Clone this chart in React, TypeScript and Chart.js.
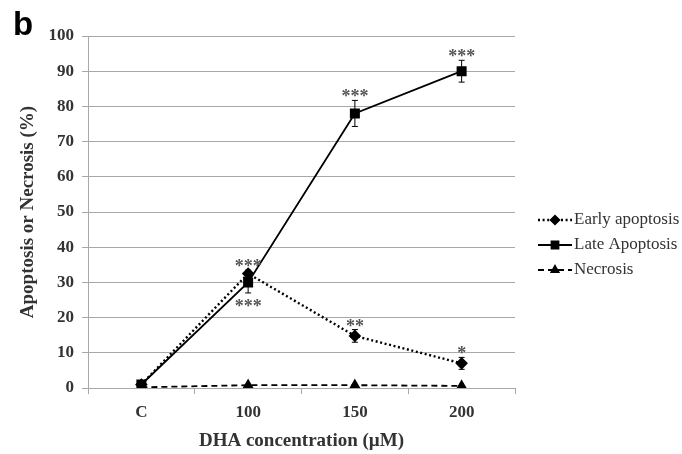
import { useEffect, useRef } from 'react';
import { Chart, registerables } from 'chart.js';
import { drawPoint } from 'chart.js/helpers';

Chart.register(...registerables);

const categories = ['C', '100', '150', '200'];

const earlyApoptosis = [1, 32.5, 14.8, 7];
const earlyErr = [0.4, 1, 1.8, 1.7];
const earlySig = ['', '***', '**', '*'];
const earlySigSide = ['above', 'above', 'above', 'above'];

const lateApoptosis = [1, 30, 78, 90];
const lateErr = [0.6, 3, 3.7, 3.1];
const lateSig = ['', '***', '***', '***'];
const lateSigSide = ['above', 'below', 'above', 'above'];

const necrosis = [0.2, 0.8, 0.8, 0.6];
const necrosisErr = [0, 0, 0, 0];
const necrosisSig = ['', '', '', ''];
const necrosisSigSide = ['above', 'above', 'above', 'above'];

const seriesNames = ['Early apoptosis', 'Late Apoptosis', 'Necrosis'];

const yMin = 0;
const yMax = 100;
const yStep = 10;

const panelLabel = 'b';
const xTitle = 'DHA concentration (µM)';
const yTitle = 'Apoptosis or Necrosis (%)';

const SERIF = '"Liberation Serif", "Times New Roman", serif';
const GRID = '#a8a8a8';
const TEXT = '#333333';

const decorPlugin = {
  id: 'decor',
  afterDatasetsDraw(chart: any) {
    const ctx = chart.ctx;
    const xs = chart.scales.x;
    const ys = chart.scales.y;
    ctx.save();
    chart.data.datasets.forEach((ds: any) => {
      ds.data.forEach((v: number, i: number) => {
        const px = xs.getPixelForValue(i);
        const e = ds.errors[i];
        const top = ys.getPixelForValue(v + e);
        const bot = ys.getPixelForValue(v - e);
        if (e > 0) {
          ctx.setLineDash([]);
          ctx.strokeStyle = '#000';
          ctx.lineWidth = 1;
          ctx.beginPath();
          ctx.moveTo(px, top);
          ctx.lineTo(px, bot);
          ctx.moveTo(px - 3, top);
          ctx.lineTo(px + 3, top);
          ctx.moveTo(px - 3, bot);
          ctx.lineTo(px + 3, bot);
          ctx.stroke();
        }
        const s = ds.sig[i];
        if (s) {
          ctx.fillStyle = '#555';
          ctx.font = 'bold 18px ' + SERIF;
          ctx.textAlign = 'center';
          ctx.textBaseline = 'alphabetic';
          if (ds.sigSide[i] === 'above') {
            ctx.fillText(s, px, top + 2);
          } else {
            ctx.fillText(s, px, bot + 19);
          }
        }
      });
    });
    ctx.restore();
  },
  afterDraw(chart: any) {
    const ctx = chart.ctx;
    const area = chart.chartArea;
    ctx.save();
    // panel label
    ctx.fillStyle = '#000';
    ctx.font = 'bold 33px "Liberation Sans", Arial, sans-serif';
    ctx.textAlign = 'left';
    ctx.textBaseline = 'alphabetic';
    ctx.fillText(panelLabel, 13, 35);
    // x title
    ctx.fillStyle = TEXT;
    ctx.font = 'bold 19px ' + SERIF;
    ctx.textAlign = 'center';
    ctx.textBaseline = 'middle';
    ctx.fillText(xTitle, (area.left + area.right) / 2, 441);
    // y title
    ctx.save();
    ctx.font = 'bold 19px ' + SERIF;
    ctx.translate(28, (area.top + area.bottom) / 2);
    ctx.rotate(-Math.PI / 2);
    ctx.fillText(yTitle, 0, 0);
    ctx.restore();
    // legend
    const rows = [220, 245, 270];
    chart.data.datasets.forEach((ds: any, i: number) => {
      const ry = rows[i];
      ctx.setLineDash(ds.borderDash || []);
      ctx.strokeStyle = '#000';
      ctx.lineWidth = ds.borderWidth;
      ctx.beginPath();
      ctx.moveTo(538, ry);
      ctx.lineTo(572, ry);
      ctx.stroke();
      ctx.setLineDash([]);
      ctx.fillStyle = '#000';
      drawPoint(ctx, { pointStyle: ds.pointStyle, radius: ds.pointRadius * 0.85, rotation: 0, borderWidth: 1 }, 555, ry);
      ctx.fillStyle = TEXT;
      ctx.font = '17px ' + SERIF;
      ctx.textAlign = 'left';
      ctx.textBaseline = 'middle';
      ctx.fillText(ds.label, 574, ry);
    });
    ctx.restore();
  },
};

export default function App() {
  const ref = useRef<HTMLCanvasElement | null>(null);

  useEffect(() => {
    document.body.style.margin = '0';
    if (!ref.current) return;
    const chart = new Chart(ref.current, {
      type: 'line',
      data: {
        labels: categories,
        datasets: [
          {
            label: seriesNames[0],
            data: earlyApoptosis,
            errors: earlyErr,
            sig: earlySig,
            sigSide: earlySigSide,
            borderColor: '#000',
            backgroundColor: '#000',
            borderWidth: 2.4,
            borderDash: [2, 2.6],
            pointStyle: 'rectRot',
            pointRadius: 4.6,
            pointBackgroundColor: '#000',
            pointBorderColor: '#000',
            tension: 0,
          } as any,
          {
            label: seriesNames[1],
            data: lateApoptosis,
            errors: lateErr,
            sig: lateSig,
            sigSide: lateSigSide,
            borderColor: '#000',
            backgroundColor: '#000',
            borderWidth: 1.8,
            borderDash: [],
            pointStyle: 'rect',
            pointRadius: 5.8,
            pointBackgroundColor: '#000',
            pointBorderColor: '#000',
            tension: 0,
          } as any,
          {
            label: seriesNames[2],
            data: necrosis,
            errors: necrosisErr,
            sig: necrosisSig,
            sigSide: necrosisSigSide,
            borderColor: '#000',
            backgroundColor: '#000',
            borderWidth: 1.8,
            borderDash: [6, 4],
            pointStyle: 'triangle',
            pointRadius: 4.8,
            pointBackgroundColor: '#000',
            pointBorderColor: '#000',
            tension: 0,
          } as any,
        ],
      },
      options: {
        responsive: false,
        animation: false,
        devicePixelRatio: 1,
        layout: { padding: { top: 36, right: 167, left: 0, bottom: 0 } },
        plugins: {
          legend: { display: false },
          tooltip: { enabled: false },
        },
        scales: {
          x: {
            type: 'category',
            offset: true,
            grid: {
              offset: true,
              drawOnChartArea: false,
              drawTicks: true,
              tickLength: 6,
              color: GRID,
            },
            border: { color: GRID, width: 1 },
            ticks: {
              color: TEXT,
              padding: 8,
              font: { family: SERIF, size: 17, weight: 'bold' },
            },
            afterFit: (s: any) => {
              s.height = 66;
            },
          },
          y: {
            min: yMin,
            max: yMax,
            grid: { color: GRID, tickLength: 6, drawTicks: true },
            border: { color: GRID, width: 1 },
            ticks: {
              stepSize: yStep,
              color: TEXT,
              padding: 8,
              font: { family: SERIF, size: 17, weight: 'bold' },
            },
            afterFit: (s: any) => {
              s.width = 88;
            },
          },
        },
      } as any,
      plugins: [decorPlugin],
    });
    return () => chart.destroy();
  }, []);

  return (
    <div style={{ width: 682, height: 454, background: '#fff' }}>
      <canvas ref={ref} width={682} height={454} />
    </div>
  );
}
